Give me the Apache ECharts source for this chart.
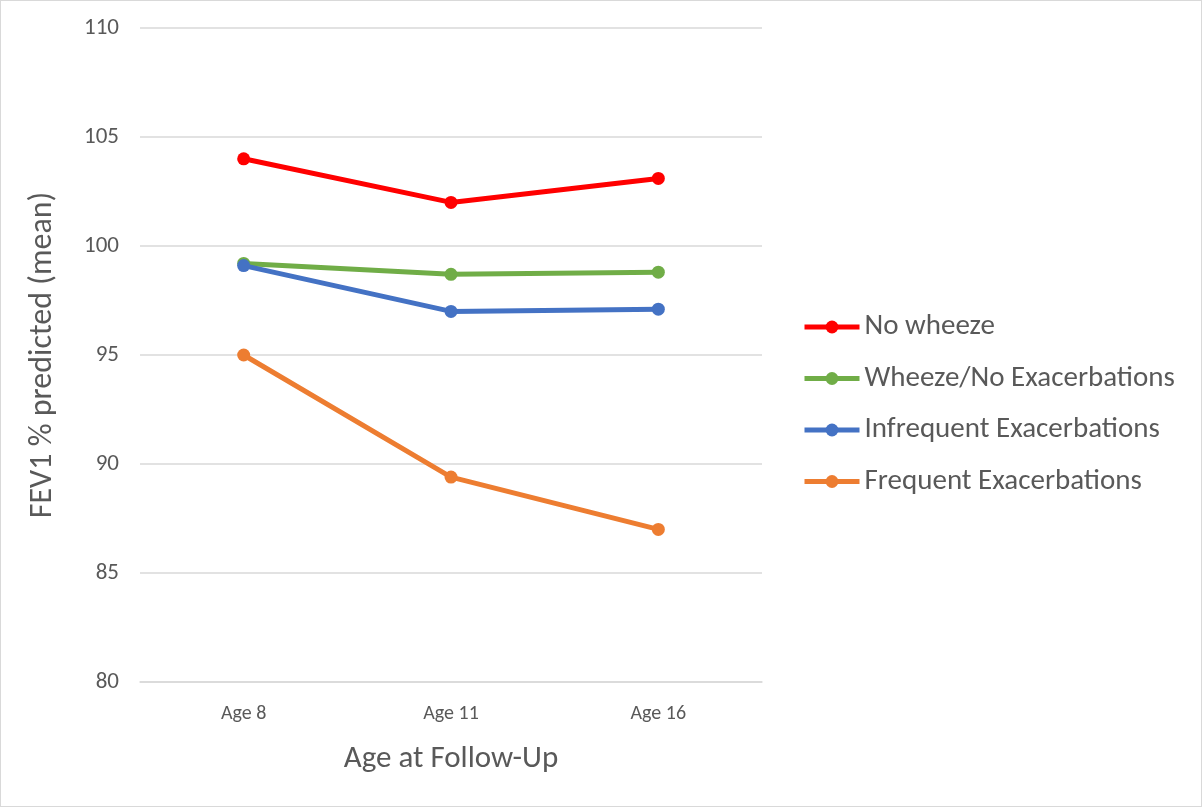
<!DOCTYPE html>
<html>
<head>
<meta charset="utf-8">
<script src="https://cdn.jsdelivr.net/npm/echarts@6/dist/echarts.min.js"></script>
<style>
  html, body { margin: 0; padding: 0; background: #fff; }
  #chart { width: 1200px; height: 805px; border: 1px solid #d9d9d9; }
</style>
</head>
<body>
<div id="chart"></div>
<script>
const categories = ['Age 8', 'Age 11', 'Age 16'];
const noWheeze = [104.0, 102.0, 103.1];
const wheezeNoExac = [99.2, 98.7, 98.8];
const infrequentExac = [99.1, 97.0, 97.1];
const frequentExac = [95.0, 89.4, 87.0];

const seriesNames = ['No wheeze', 'Wheeze/No Exacerbations', 'Infrequent Exacerbations', 'Frequent Exacerbations'];
const seriesColors = ['#ff0000', '#70ad47', '#4472c4', '#ed7d31'];
const seriesData = [noWheeze, wheezeNoExac, infrequentExac, frequentExac];

const font = 'Carlito, "Open Sans", "Liberation Sans", sans-serif';
const chart = echarts.init(document.getElementById('chart'));

chart.setOption({
  animation: false,
  textStyle: { fontFamily: font },
  grid: { left: 139, right: 439, top: 27, bottom: 124 },
  legend: {
    orient: 'vertical',
    left: 801,
    top: 311,
    padding: 0,
    itemWidth: 55,
    itemHeight: 16,
    itemGap: 21.5,
    data: seriesNames,
    lineStyle: { width: 5 },
    textStyle: { fontSize: 29, color: '#595959', lineHeight: 30, fontFamily: font }
  },
  xAxis: {
    type: 'category',
    data: categories,
    boundaryGap: true,
    axisLine: { show: true, lineStyle: { color: '#d9d9d9', width: 1.5 } },
    axisTick: { show: false },
    axisLabel: { fontSize: 20, color: '#595959', margin: 22 },
    name: 'Age at Follow-Up',
    nameLocation: 'middle',
    nameGap: 62,
    nameTextStyle: { fontSize: 31, color: '#595959' }
  },
  yAxis: {
    type: 'value',
    min: 80,
    max: 110,
    interval: 5,
    axisLine: { show: false },
    axisTick: { show: false },
    splitLine: { lineStyle: { color: '#d9d9d9', width: 1.5 } },
    axisLabel: { fontSize: 23, color: '#595959', margin: 21 },
    name: 'FEV1 % predicted (mean)',
    nameLocation: 'middle',
    nameGap: 81,
    nameRotate: 90,
    nameTextStyle: { fontSize: 32, color: '#595959' }
  },
  series: seriesNames.map((name, i) => ({
    name: name,
    type: 'line',
    data: seriesData[i],
    symbol: 'circle',
    symbolSize: 13,
    color: seriesColors[i],
    lineStyle: { width: 5, color: seriesColors[i] },
    itemStyle: { color: seriesColors[i] }
  }))
});
</script>
</body>
</html>
